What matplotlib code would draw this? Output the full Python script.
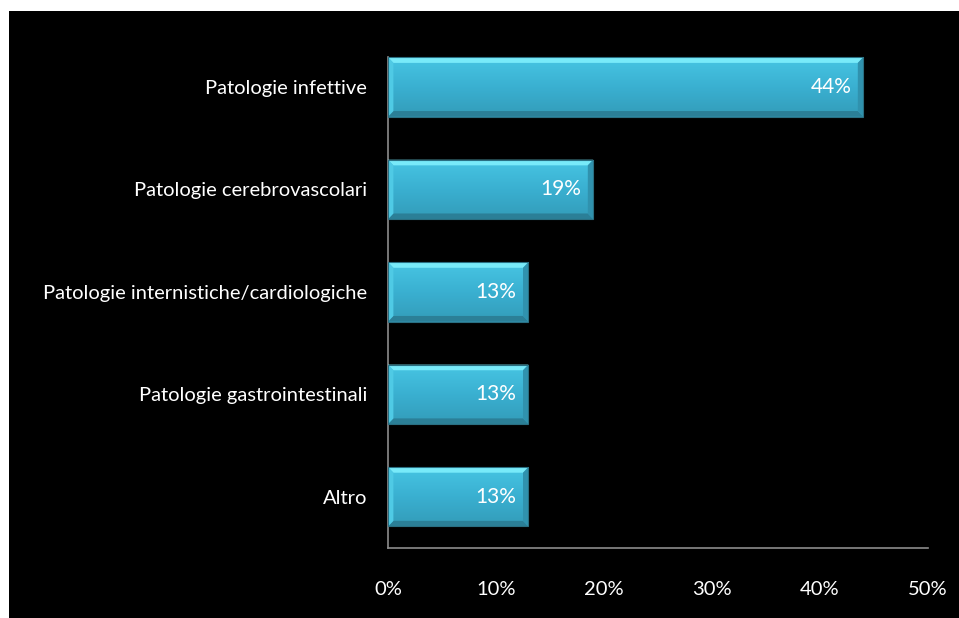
import matplotlib
matplotlib.use("Agg")
import matplotlib.pyplot as plt
import numpy as np
from matplotlib.patches import Rectangle, Polygon
from matplotlib.colors import LinearSegmentedColormap

categories = [
    "Patologie infettive",
    "Patologie cerebrovascolari",
    "Patologie internistiche/cardiologiche",
    "Patologie gastrointestinali",
    "Altro",
]
values = [44, 19, 13, 13, 13]
tick_values = [0, 10, 20, 30, 40, 50]
tick_labels = ["0%", "10%", "20%", "30%", "40%", "50%"]

FONT = ["Lato", "DejaVu Sans"]
plt.rcParams["font.family"] = FONT

W, H = 959, 618
fig = plt.figure(figsize=(W / 100, H / 100), dpi=100, facecolor="white")
# black slide background with a thin white margin at top/left
fig.patches.append(Rectangle((9 / W, 0), 1 - 9 / W, 1 - 11 / H,
                             transform=fig.transFigure, facecolor="black",
                             edgecolor="none", zorder=-10))

ax = fig.add_axes([388 / W, 70 / H, (928 - 388) / W, (548 - 35.75) / H])
ax.set_facecolor("none")

bar_h = 0.58
y = np.arange(len(categories))
bars = ax.barh(y, values, height=bar_h, color="#3bb4d5", edgecolor="none", zorder=2)

ax.set_xlim(0, 50)
ax.set_ylim(len(categories) - 0.5, -0.5)

face_cmap = LinearSegmentedColormap.from_list("face", ["#47c5e3", "#3ab0d1", "#339cb9"])
grad = np.linspace(0, 1, 64).reshape(-1, 1)

bx = 0.5   # bevel width in data units (x)
by = 0.055  # bevel height in data units (y)
for bar, v in zip(bars, values):
    x0, y0 = bar.get_x(), bar.get_y()
    x1, y1 = x0 + bar.get_width(), y0 + bar.get_height()
    im = ax.imshow(grad, cmap=face_cmap, aspect="auto",
                   extent=(x0, x1, y1, y0), origin="upper", zorder=2.5)
    im.set_clip_path(bar)
    # bevel: top lighter, bottom darker, sides
    ax.add_patch(Polygon([(x0, y0), (x1, y0), (x1 - bx, y0 + by), (x0 + bx, y0 + by)],
                         closed=True, facecolor="#78eaf9", edgecolor="none", zorder=3))
    ax.add_patch(Polygon([(x0, y1), (x1, y1), (x1 - bx, y1 - by), (x0 + bx, y1 - by)],
                         closed=True, facecolor="#2b7f97", edgecolor="none", zorder=3))
    ax.add_patch(Polygon([(x0, y0), (x0 + bx, y0 + by), (x0 + bx, y1 - by), (x0, y1)],
                         closed=True, facecolor="#4fcae5", edgecolor="none", zorder=3))
    ax.add_patch(Polygon([(x1, y0), (x1 - bx, y0 + by), (x1 - bx, y1 - by), (x1, y1)],
                         closed=True, facecolor="#3092ae", edgecolor="none", zorder=3))
    ax.add_patch(Rectangle((x0, y0), x1 - x0, y1 - y0, facecolor="none",
                           edgecolor="#2a6f82", linewidth=0.8, zorder=3.5))
    ax.text(v - 1.1, (y0 + y1) / 2, f"{v}%", ha="right", va="center",
            color="white", fontsize=15, zorder=4, family=FONT)

ax.set_yticks(y)
ax.set_yticklabels(categories, color="white", fontsize=14.5)
ax.set_xticks(tick_values)
ax.set_xticklabels(tick_labels, color="white", fontsize=14.5)
ax.tick_params(axis="both", length=0)
ax.tick_params(axis="y", pad=15)
ax.tick_params(axis="x", pad=24)

for s in ("top", "right"):
    ax.spines[s].set_visible(False)
for s in ("left", "bottom"):
    ax.spines[s].set_color("#8c8c8c")
    ax.spines[s].set_linewidth(1.2)
ax.spines["left"].set_bounds(-bar_h / 2, len(categories) - 0.5)

fig.savefig("out.png", dpi=100, facecolor=fig.get_facecolor())
